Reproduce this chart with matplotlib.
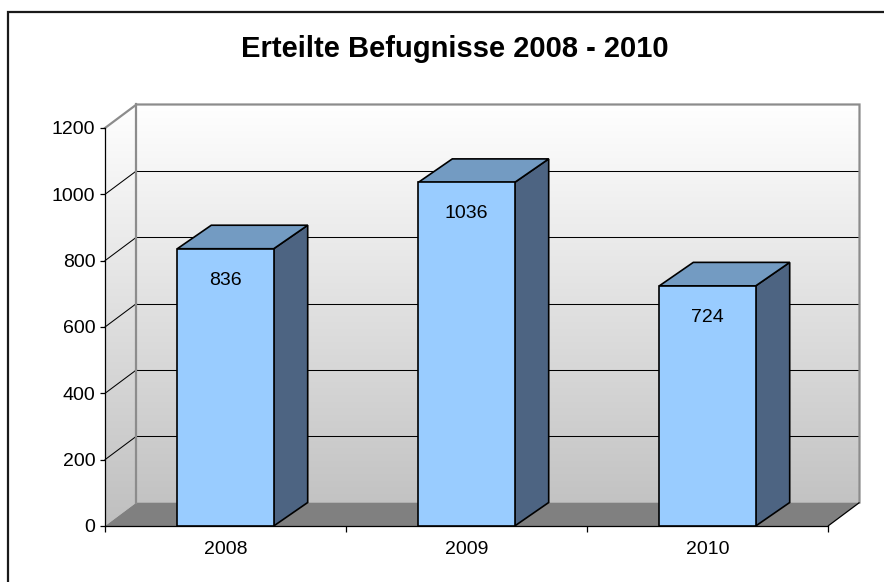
import numpy as np
import matplotlib
matplotlib.use("Agg")
import matplotlib.pyplot as plt
from matplotlib.patches import Polygon, Rectangle
from matplotlib.lines import Line2D

plt.rcParams["font.family"] = ["Liberation Sans", "DejaVu Sans"]

# ---- data ----
title = "Erteilte Befugnisse 2008 - 2010"
years = ["2008", "2009", "2010"]
values = [836, 1036, 724]
y_ticks = [0, 200, 400, 600, 800, 1000, 1200]

# ---- figure / axes geometry (front plane of the 3D box) ----
W, H = 884, 582
fig = plt.figure(figsize=(W / 100, H / 100), dpi=100)
ax = fig.add_axes([0, 0, 1, 1])
ax.set_facecolor("none")

ymax = 1200
px_x0, px_x1 = 105, 828            # front plane horizontal extent (px)
px_y0, px_y1 = 526, 128            # value 0 and value ymax (px from top)
sx = (px_x1 - px_x0) / 3.0         # px per category
sy = (px_y0 - px_y1) / ymax        # px per value unit
xlim = (-0.5 - px_x0 / sx, 2.5 + (W - px_x1) / sx)
ylim = (-(H - px_y0) / sy, ymax + px_y1 / sy)

DX = 31.5 / sx      # depth offset of the walls (category units)
DY = 23.5 / sy      # depth offset (value units)
BDX = 34.0 / sx     # depth offset of the columns
bar_w = 0.4

wall_edge = "#8c8c8c"

# ---- walls with vertical gradient ----
top_c = np.array([1.0, 1.0, 1.0])
bot_c = np.array([0.75, 0.75, 0.75])
t = np.linspace(0, 1, 256)[:, None]
grad = (bot_c[None, :] * (1 - t) + top_c[None, :] * t)[:, None, :]
walls = Polygon([(-0.5, 0), (-0.5, ymax), (-0.5 + DX, ymax + DY),
                 (2.5 + DX, ymax + DY), (2.5 + DX, DY), (-0.5 + DX, DY)],
                closed=True, facecolor="none", edgecolor="none",
                transform=ax.transData)
ax.add_patch(walls)
im = ax.imshow(grad, extent=(-0.5, 2.5 + DX, 0, ymax + DY), origin="lower",
               aspect="auto", interpolation="bilinear", zorder=0.5)
im.set_clip_path(walls)

# floor
floor = Polygon([(-0.5, 0), (2.5, 0), (2.5 + DX, DY), (-0.5 + DX, DY)],
                closed=True, facecolor="#808080", edgecolor="none", zorder=1)
ax.add_patch(floor)
ax.plot([2.5, 2.5 + DX], [0, DY], color="black", lw=0.9, zorder=1.2,
        solid_capstyle="butt")

# gridlines on back wall and side wall
for v in y_ticks[1:-1]:
    ax.plot([-0.5 + DX, 2.5 + DX], [v + DY, v + DY], color="black", lw=0.75, zorder=1.1)
    ax.plot([-0.5, -0.5 + DX], [v, v + DY], color="black", lw=0.75, zorder=1.1)

# wall outlines
ax.plot([-0.5, -0.5 + DX, 2.5 + DX, 2.5 + DX], [ymax, ymax + DY, ymax + DY, DY],
        color=wall_edge, lw=1.6, zorder=1.1, solid_joinstyle="miter")
ax.plot([-0.5 + DX, -0.5 + DX], [DY, ymax + DY], color=wall_edge, lw=1.6, zorder=1.1)

# ---- 3D columns ----
front_c, top_col, side_c = "#99CCFF", "#739BC2", "#4D6482"
for i, v in enumerate(values):
    xl, xr = i - bar_w / 2, i + bar_w / 2
    side = Polygon([(xr, 0), (xr, v), (xr + BDX, v + DY), (xr + BDX, DY)],
                   closed=True, facecolor=side_c, edgecolor="black", lw=1.2,
                   zorder=3, joinstyle="miter")
    top = Polygon([(xl, v), (xr, v), (xr + BDX, v + DY), (xl + BDX, v + DY)],
                  closed=True, facecolor=top_col, edgecolor="black", lw=1.2,
                  zorder=3, joinstyle="miter")
    front = Rectangle((xl, 0), bar_w, v, facecolor=front_c, edgecolor="black",
                      lw=1.2, zorder=3.2, joinstyle="miter")
    ax.add_patch(side)
    ax.add_patch(top)
    ax.add_patch(front)
    ax.text(i, v - 95, f"{v}", ha="center", va="center", fontsize=14,
            color="black", zorder=4)

# ---- axes, ticks ----
ax.set_xlim(*xlim)
ax.set_ylim(*ylim)
for s in ("top", "right"):
    ax.spines[s].set_visible(False)
ax.spines["left"].set_position(("data", -0.5))
ax.spines["left"].set_bounds(0, ymax)
ax.spines["bottom"].set_position(("data", 0))
ax.spines["bottom"].set_bounds(-0.5, 2.5)
for s in ("left", "bottom"):
    ax.spines[s].set_color("black")
    ax.spines[s].set_linewidth(0.9)
    ax.spines[s].set_zorder(2.5)

ax.set_yticks(y_ticks)
ax.set_yticklabels([str(v) for v in y_ticks])
ax.tick_params(axis="y", direction="out", length=3.6, width=0.9, pad=3.4,
               labelsize=14, colors="black")
ax.set_xticks([-0.5, 0.5, 1.5, 2.5])
ax.set_xticklabels([])
ax.tick_params(axis="x", which="major", direction="out", length=4.3, width=0.9)
ax.set_xticks([0, 1, 2], minor=True)
ax.set_xticklabels(years, minor=True)
ax.tick_params(axis="x", which="minor", length=0, pad=10.5, labelsize=14,
               colors="black")

# ---- title ----
fig.text(455 / W, 1 - 57 / H, title, ha="center", va="baseline",
         fontsize=21, fontweight="bold", color="black")

# ---- chart area border (left and top edges) ----
bx, by = 8 / W, 1 - 12 / H
fig.add_artist(Line2D([bx, bx, 1.0], [0.0, by, by], transform=fig.transFigure,
                      color="#1a1a1a", lw=1.6, solid_joinstyle="miter"))

fig.savefig("out.png", dpi=100)
